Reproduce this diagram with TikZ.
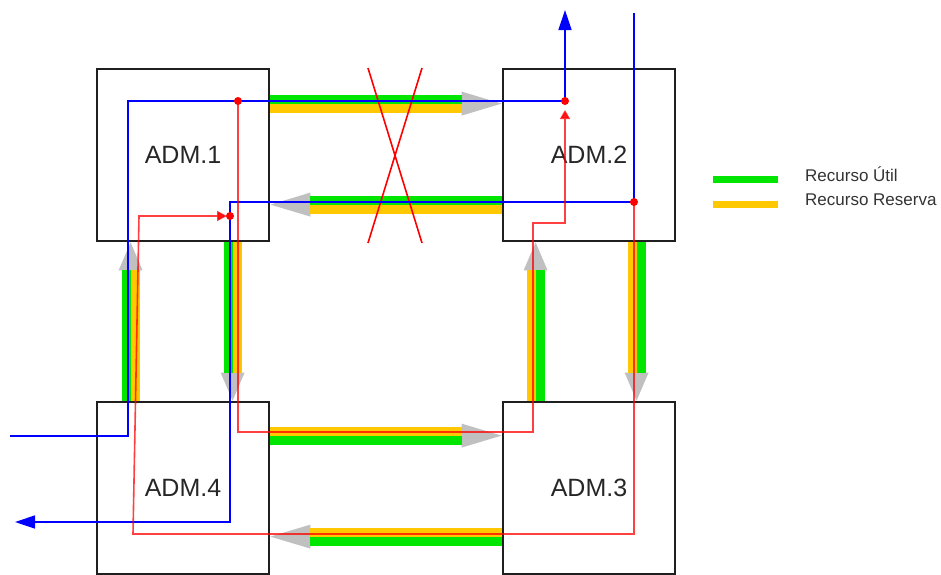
\documentclass[tikz,border=0pt]{standalone}
\usepackage{fontspec}
\setmainfont{Liberation Sans}
\usetikzlibrary{arrows.meta,calc}

\definecolor{util}{RGB}{0,230,0}
\definecolor{reserva}{RGB}{255,200,0}
\definecolor{pontagrey}{RGB}{192,192,192}

\tikzset{
  adm/.style={draw=black!88, line width=2.8pt, minimum width=172pt, minimum height=172pt,
    inner sep=0pt, font=\fontsize{25}{29}\selectfont, text=black!85},
  fluxo/.style={blue, line width=1.5pt},
  protecao/.style={red, draw opacity=0.75, fill opacity=0.9, line width=1.6pt},
  corte/.style={red, line width=1.6pt},
  legenda/.style={inner sep=0pt, font=\fontsize{17}{20}\selectfont, text=black!80}
}

% enlace: [comprimento da ponta]{de}{para}{cor a esquerda}{cor a direita}
\newcommand{\band}[5][40pt]{%
  \path (#2) coordinate (bs) (#3) coordinate (be);
  \coordinate (bb) at ($(be)!#1!(bs)$);
  \fill[pontagrey] (be) -- ($(bb)!12pt!90:(bs)$) -- ($(bb)!12pt!-90:(bs)$) -- cycle;
  \fill[#4] (bs) -- ($(bs)!9pt!90:(be)$) -- ($(bb)!9pt!-90:(bs)$) -- (bb) -- cycle;
  \fill[#5] (bs) -- ($(bs)!9pt!-90:(be)$) -- ($(bb)!9pt!90:(bs)$) -- (bb) -- cycle;
}

\begin{document}
\begin{tikzpicture}[x=1pt,y=-1pt,>=Latex]
  \useasboundingbox (0,0) rectangle (941,574);

  % ADMs do anel
  \node[adm] (adm1) at (183,155) {ADM.1};
  \node[adm] (adm2) at (589,155) {ADM.2};
  \node[adm] (adm3) at (589,488) {ADM.3};
  \node[adm] (adm4) at (183,488) {ADM.4};

  % enlaces (recurso util + reserva)
  \band{[yshift=-36pt]adm1.north east}{[yshift=-36pt]adm2.north west}{util}{reserva}
  \band{[yshift=-137pt]adm2.north west}{[yshift=-137pt]adm1.north east}{reserva}{util}
  \band[28pt]{[xshift=35pt]adm4.north west}{[xshift=35pt]adm1.south west}{util}{reserva}
  \band[28pt]{[xshift=137pt]adm1.south west}{[xshift=137pt]adm4.north west}{reserva}{util}
  \band[28pt]{[xshift=34pt]adm3.north west}{[xshift=34pt]adm2.south west}{reserva}{util}
  \band[28pt]{[xshift=135pt]adm2.south west}{[xshift=135pt]adm3.north west}{util}{reserva}
  \band{[yshift=-35pt]adm4.north east}{[yshift=-35pt]adm3.north west}{reserva}{util}
  \band{[yshift=-136pt]adm3.north west}{[yshift=-136pt]adm4.north east}{util}{reserva}

  % falha entre ADM.1 e ADM.2
  \draw[corte] (368,68) -- (422,243) (422,68) -- (368,243);

  % pontos de comutacao
  \coordinate (j1) at (238,101);
  \coordinate (j2) at (565,101);
  \coordinate (j3) at (634,202);
  \coordinate (j4) at (230,216);
  \coordinate (in1) at (10,436);
  \coordinate (out1) at (565,10);
  \coordinate (in2) at (634,13);
  \coordinate (out2) at (15,522);

  % trafego
  \draw[fluxo,-{Triangle[length=20pt,width=13pt]}] (in1) -| (128,101) -- (j2) -- (out1);
  \draw[fluxo,-{Triangle[length=20pt,width=13pt]}] (in2) -- (j3) -| (j4) |- (out2);

  % caminhos de protecao
  \draw[protecao,-{Triangle[length=9pt,width=10pt]},shorten >=9pt]
    (j1) |- (533,432) -- (533,223) -| (j2);
  \draw[protecao,-{Triangle[length=10pt,width=10pt]},shorten >=3pt]
    (j3) |- (133,534) -- (139,216) -- (j4);

  \foreach \j in {j1,j2,j3,j4}
    \fill[red] (\j) circle (4);

  % legenda
  \node[legenda,anchor=base west] (lutil) at (805,181) {Recurso Útil};
  \node[legenda,anchor=base west] (lreserva) at (805,205) {Recurso Reserva};
  \draw[util,line width=7pt] ([xshift=-27pt,yshift=2pt]lutil.base west) -- ++(-65,0);
  \draw[reserva,line width=7pt] ([xshift=-27pt,yshift=1pt]lreserva.base west) -- ++(-65,0);
\end{tikzpicture}
\end{document}
